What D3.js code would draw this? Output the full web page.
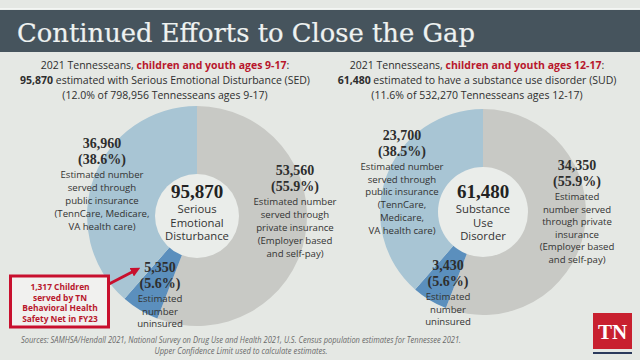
<!DOCTYPE html>
<html><head><meta charset="utf-8">
<script src="https://cdn.jsdelivr.net/npm/d3@7"></script>
<style>
html,body{margin:0;padding:0;background:#e5e8e4;}
svg{display:block;}
</style></head>
<body>
<svg id="chart" width="640" height="360"></svg>
<script>
// ---- data ----
const categories = ["Private insurance", "Uninsured", "Public insurance"];
const sedValues = [53560, 5350, 36960];
const sedPercents = ["55.9%", "5.6%", "38.6%"];
const sudValues = [34350, 3430, 23700];
const sudPercents = ["55.9%", "5.6%", "38.5%"];
const sedTotal = "95,870";
const sudTotal = "61,480";
const colors = ["#c8c9c5", "#5b8fbd", "#a8c5d4"];

const svg = d3.select("#chart");
const W = 640, H = 360;
svg.append("rect").attr("width", W).attr("height", H).attr("fill", "#e5e8e4");

// header band
svg.append("rect").attr("x", 0).attr("y", 8).attr("width", W).attr("height", 1.5).attr("fill", "#f4f6f4");
svg.append("rect").attr("x", 0).attr("y", 10).attr("width", W).attr("height", 42).attr("fill", "#46545d");
svg.append("text").attr("x", 17).attr("y", 42)
  .attr("font-family", "DejaVu Serif").attr("font-size", 26)
  .attr("fill", "#eef2f1").attr("stroke", "#eef2f1").attr("stroke-width", 0.2)
  .attr("textLength", 458).attr("lengthAdjust", "spacingAndGlyphs")
  .text("Continued Efforts to Close the Gap");

const sans = "'Open Sans', sans-serif";
const serif = "'Liberation Serif', serif";
const dark = "#2e2e2e";
const red = "#b8172c";

function subtitle(cx, ages, total, rest, line3) {
  const g = svg.append("g").attr("font-family", sans).attr("font-size", 10.5).attr("fill", dark).attr("text-anchor", "middle");
  const t1 = g.append("text").attr("x", cx).attr("y", 69);
  t1.append("tspan").text("2021 Tennesseans, ");
  t1.append("tspan").attr("font-weight", "bold").attr("fill", red).text("children and youth ages " + ages);
  t1.append("tspan").text(":");
  const t2 = g.append("text").attr("x", cx).attr("y", 84);
  t2.append("tspan").attr("font-weight", "bold").text(total);
  t2.append("tspan").text(rest);
  g.append("text").attr("x", cx).attr("y", 99).text(line3);
}
subtitle(165, "9-17", "95,870", " estimated with Serious Emotional Disturbance (SED)", "(12.0% of 798,956 Tennesseans ages 9-17)");
subtitle(477, "12-17", "61,480", " estimated to have a substance use disorder (SUD)", "(11.6% of 532,270 Tennesseans ages 12-17)");

const pie = d3.pie().sort(null).startAngle(0).endAngle(2 * Math.PI);

function donut(cx, cy, rOuter, rInner, values) {
  const arc = d3.arc().innerRadius(rInner - 1).outerRadius(rOuter);
  const g = svg.append("g").attr("transform", `translate(${cx},${cy})`);
  g.selectAll("path").data(pie(values)).join("path")
    .attr("d", arc).attr("fill", (d, i) => colors[i]);
  g.append("circle").attr("r", rInner).attr("fill", "#eaedea");
}
donut(197, 216, 110, 42, sedValues);
donut(483, 212, 103, 45, sudValues);

function fmt(v) { return d3.format(",")(v); }

function label(x, y, value, pct, lines, lh) {
  const g = svg.append("g").attr("text-anchor", "middle");
  g.append("text").attr("x", x).attr("y", y).attr("font-family", serif).attr("font-weight", "bold")
    .attr("font-size", 14).attr("fill", dark).text(fmt(value));
  g.append("text").attr("x", x).attr("y", y + 16).attr("font-family", serif).attr("font-weight", "bold")
    .attr("font-size", 14).attr("fill", dark).text("(" + pct + ")");
  lines.forEach((l, i) => {
    g.append("text").attr("x", x).attr("y", y + 30 + i * lh).attr("font-family", sans)
      .attr("font-size", 9.6).attr("fill", "#333").text(l);
  });
}
// SED labels
label(102, 148, sedValues[2], sedPercents[2], ["Estimated number", "served through", "public insurance", "(TennCare, Medicare,", "VA health care)"], 13);
label(295, 175, sedValues[0], sedPercents[0], ["Estimated number", "served through", "private insurance", "(Employer based", "and self-pay)"], 13);
label(160, 272, sedValues[1], sedPercents[1], ["Estimated", "number", "uninsured"], 12.5);
// SUD labels
label(402, 140, sudValues[2], sudPercents[2], ["Estimated number", "served through", "public insurance", "(TennCare,", "Medicare,", "VA health care)"], 12.7);
label(577, 170, sudValues[0], sudPercents[0], ["Estimated", "number served", "through private", "insurance", "(Employer based", "and self-pay)"], 12.5);
label(448, 270, sudValues[1], sudPercents[1], ["Estimated", "number", "uninsured"], 12.5);

function centerText(cx, total, lines) {
  const g = svg.append("g").attr("text-anchor", "middle");
  g.append("text").attr("x", cx).attr("y", 198).attr("font-family", serif).attr("font-weight", "bold")
    .attr("font-size", 19).attr("fill", "#222").text(total);
  lines.forEach((l, i) => {
    g.append("text").attr("x", cx).attr("y", 213 + i * 13.5).attr("font-family", sans)
      .attr("font-size", 11.3).attr("fill", "#333").text(l);
  });
}
centerText(197, sedTotal, ["Serious", "Emotional", "Disturbance"]);
centerText(483, sudTotal, ["Substance", "Use", "Disorder"]);

// callout box
svg.append("rect").attr("x", 10.5).attr("y", 276).attr("width", 98).attr("height", 51)
  .attr("fill", "#f1f1ef").attr("stroke", "#c8102e").attr("stroke-width", 3);
const cb = ["1,317 Children", "served by TN", "Behavioral Health", "Safety Net in FY23"];
cb.forEach((l, i) => {
  svg.append("text").attr("x", 60).attr("y", 290 + i * 10.7).attr("text-anchor", "middle")
    .attr("font-family", sans).attr("font-weight", "bold").attr("font-size", 8.4).attr("fill", red).text(l);
});
svg.append("defs").append("marker").attr("id", "ah").attr("viewBox", "0 0 10 10").attr("refX", 5).attr("refY", 5)
  .attr("markerWidth", 3.2).attr("markerHeight", 3.2).attr("orient", "auto")
  .append("path").attr("d", "M0,0 L10,5 L0,10 Z").attr("fill", "#c8102e");
svg.append("line").attr("x1", 109).attr("y1", 284).attr("x2", 136).attr("y2", 270)
  .attr("stroke", "#c8102e").attr("stroke-width", 3).attr("marker-end", "url(#ah)");

// sources
const src = svg.append("g").attr("font-family", sans).attr("font-style", "italic").attr("font-size", 8.4)
  .attr("fill", "#6a6a6a").attr("text-anchor", "middle");
src.append("text").attr("x", 241).attr("y", 343).attr("textLength", 440).attr("lengthAdjust", "spacingAndGlyphs")
  .text("Sources: SAMHSA/Hendall 2021, National Survey on Drug Use and Health 2021, U.S. Census population estimates for Tennessee 2021.");
src.append("text").attr("x", 241).attr("y", 354).attr("textLength", 173).attr("lengthAdjust", "spacingAndGlyphs")
  .text("Upper Confidence Limit used to calculate estimates.");

// TN logo
svg.append("rect").attr("x", 593).attr("y", 313).attr("width", 39).attr("height", 36).attr("fill", "#c8202f");
svg.append("text").attr("x", 612.5).attr("y", 339).attr("text-anchor", "middle").attr("font-family", serif)
  .attr("font-weight", "bold").attr("font-size", 21).attr("fill", "#fff").text("TN");
svg.append("rect").attr("x", 593).attr("y", 352).attr("width", 39).attr("height", 2).attr("fill", "#2b3a5c");
</script>
</body></html>
